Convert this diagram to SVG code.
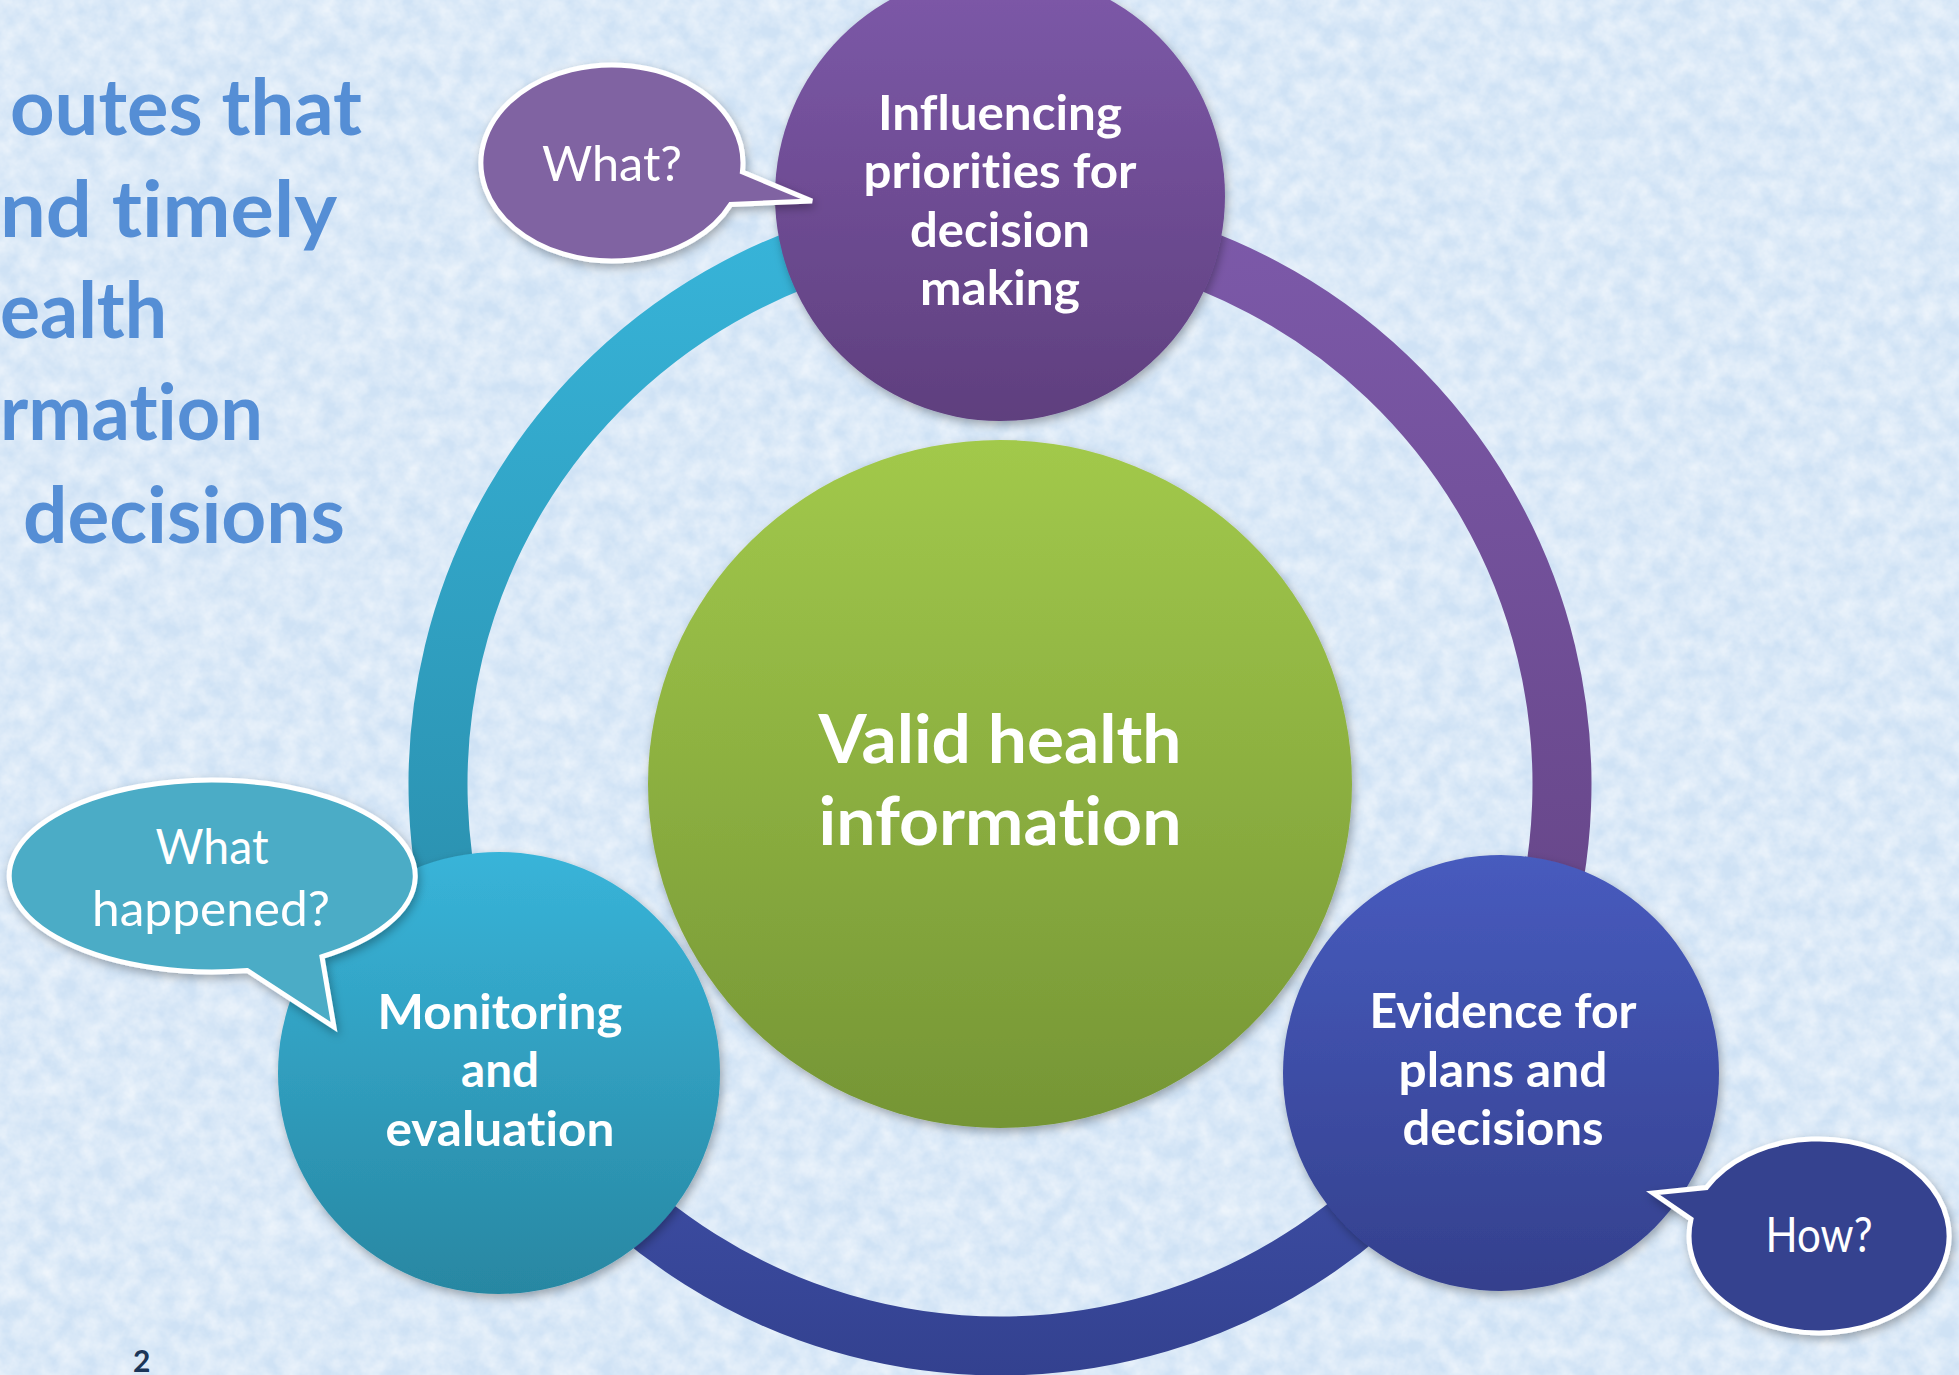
<svg xmlns="http://www.w3.org/2000/svg" width="1959" height="1375" viewBox="0 0 1959 1375">
<style>
text{font-variant-ligatures:none;font-feature-settings:"liga" 0,"clig" 0}
.node{font-family:Lato,"Liberation Sans",sans-serif;font-weight:bold;fill:#ffffff;text-anchor:middle}
.bub{font-family:Lato,"Liberation Sans",sans-serif;font-weight:normal;fill:#ffffff;text-anchor:middle}
.title{font-family:Lato,"Liberation Sans",sans-serif;font-weight:bold;fill:#558ed5;font-size:78px}
.ring{fill:none;stroke-width:59}
.bubshape{stroke:#ffffff;stroke-width:5;stroke-linejoin:miter}
</style>
<defs>
<filter id="tex" x="0" y="0" width="100%" height="100%">
<feTurbulence type="fractalNoise" baseFrequency="0.05" numOctaves="4" seed="7"/>
<feColorMatrix type="matrix" values="0 0 0 0 1  0 0 0 0 1  0 0 0 0 1  0.9 0 0 0 -0.2"/>
</filter>
<filter id="sh" x="-20%" y="-20%" width="140%" height="140%">
<feDropShadow dx="2" dy="4" stdDeviation="5" flood-color="#000000" flood-opacity="0.3"/>
</filter>
<linearGradient id="gTop" x1="0" y1="0" x2="0" y2="1"><stop offset="0" stop-color="#7d59a9"/><stop offset="1" stop-color="#5f3f7e"/></linearGradient>
<linearGradient id="gLeft" x1="0" y1="0" x2="0" y2="1"><stop offset="0" stop-color="#38b4d9"/><stop offset="1" stop-color="#2887a2"/></linearGradient>
<linearGradient id="gRight" x1="0" y1="0" x2="0" y2="1"><stop offset="0" stop-color="#475bbe"/><stop offset="1" stop-color="#34408d"/></linearGradient>
<linearGradient id="gCenter" x1="0" y1="0" x2="0" y2="1"><stop offset="0" stop-color="#a2c94b"/><stop offset="1" stop-color="#759535"/></linearGradient>
<linearGradient id="aCyan" gradientUnits="userSpaceOnUse" x1="0" y1="222" x2="0" y2="1065"><stop offset="0" stop-color="#37b4d9"/><stop offset="1" stop-color="#2889a6"/></linearGradient>
<linearGradient id="aPurple" gradientUnits="userSpaceOnUse" x1="0" y1="222" x2="0" y2="1065"><stop offset="0" stop-color="#7c59a9"/><stop offset="1" stop-color="#634383"/></linearGradient>
<linearGradient id="aBlue" gradientUnits="userSpaceOnUse" x1="0" y1="1065" x2="0" y2="1376"><stop offset="0" stop-color="#4152ac"/><stop offset="1" stop-color="#33418f"/></linearGradient>
</defs>

<g id="background">
<rect x="0" y="0" width="1959" height="1375" fill="#cfe2f5"/>
<rect x="0" y="0" width="1959" height="1375" filter="url(#tex)"/>
</g>

<g id="title-text">
<text class="title" x="10" y="135" textLength="352" lengthAdjust="spacingAndGlyphs">outes that</text>
<text class="title" x="0" y="237" textLength="337" lengthAdjust="spacingAndGlyphs">nd timely</text>
<text class="title" x="0" y="338" textLength="167" lengthAdjust="spacingAndGlyphs">ealth</text>
<text class="title" x="0" y="440" textLength="263" lengthAdjust="spacingAndGlyphs">rmation</text>
<text class="title" x="23" y="543" textLength="322" lengthAdjust="spacingAndGlyphs">decisions</text>
</g>

<g id="connectors">
<path class="ring" stroke="url(#aCyan)" d="M 1000,222 A 562 562 0 0 0 513.3,1065"/>
<path class="ring" stroke="url(#aPurple)" d="M 1000,222 A 562 562 0 0 1 1486.7,1065"/>
<path class="ring" stroke="url(#aBlue)" d="M 1486.7,1065 A 562 562 0 0 1 513.3,1065"/>
</g>

<g id="node-center">
<ellipse cx="1000" cy="784" rx="352" ry="344" fill="url(#gCenter)" filter="url(#sh)"/>
<text class="node" x="1000" y="763" font-size="66" textLength="363" lengthAdjust="spacingAndGlyphs">Valid health</text>
<text class="node" x="1000" y="845" font-size="66" textLength="363" lengthAdjust="spacingAndGlyphs">information</text>
</g>

<g id="node-top">
<circle cx="1000" cy="196" r="225" fill="url(#gTop)" filter="url(#sh)"/>
<text class="node" x="1000" y="130" font-size="48" textLength="244" lengthAdjust="spacingAndGlyphs">Influencing</text>
<text class="node" x="1000" y="188" font-size="48" textLength="273" lengthAdjust="spacingAndGlyphs">priorities for</text>
<text class="node" x="1000" y="247" font-size="48" textLength="180" lengthAdjust="spacingAndGlyphs">decision</text>
<text class="node" x="1000" y="305" font-size="48" textLength="160" lengthAdjust="spacingAndGlyphs">making</text>
</g>

<g id="node-left">
<circle cx="499" cy="1073" r="221" fill="url(#gLeft)" filter="url(#sh)"/>
<text class="node" x="500" y="1029" font-size="48" textLength="245" lengthAdjust="spacingAndGlyphs">Monitoring</text>
<text class="node" x="500" y="1087" font-size="48" textLength="78" lengthAdjust="spacingAndGlyphs">and</text>
<text class="node" x="500" y="1146" font-size="48" textLength="229" lengthAdjust="spacingAndGlyphs">evaluation</text>
</g>

<g id="node-right">
<circle cx="1501" cy="1073" r="218" fill="url(#gRight)" filter="url(#sh)"/>
<text class="node" x="1503" y="1028" font-size="48" textLength="267" lengthAdjust="spacingAndGlyphs">Evidence for</text>
<text class="node" x="1503" y="1087" font-size="48" textLength="209" lengthAdjust="spacingAndGlyphs">plans and</text>
<text class="node" x="1503" y="1145" font-size="48" textLength="201" lengthAdjust="spacingAndGlyphs">decisions</text>
</g>

<g id="bubble-what">
<path class="bubshape" fill="#8064a2" filter="url(#sh)" d="M 730.7,204.4 A 131 98 0 1 1 742.4,172 L 812,201 Z"/>
<text class="bub" x="612" y="181" font-size="48" textLength="140" lengthAdjust="spacingAndGlyphs">What?</text>
</g>

<g id="bubble-what-happened">
<path class="bubshape" fill="#4bacc6" filter="url(#sh)" d="M 322,956.7 A 203 96 0 1 0 247.3,970.5 L 334,1027 Z"/>
<text class="bub" x="212" y="864" font-size="48" textLength="113" lengthAdjust="spacingAndGlyphs">What</text>
<text class="bub" x="211" y="926" font-size="48" textLength="238" lengthAdjust="spacingAndGlyphs">happened?</text>
</g>

<g id="bubble-how">
<path class="bubshape" fill="#36438f" filter="url(#sh)" d="M 1706.4,1187.5 A 130 97 0 1 1 1691,1219.2 L 1653,1193 Z"/>
<text class="bub" x="1819" y="1252" font-size="48" textLength="107" lengthAdjust="spacingAndGlyphs">How?</text>
</g>

<g id="page-number">
<text x="133" y="1372" font-family="Lato,'Liberation Sans',sans-serif" font-weight="bold" font-size="30" fill="#1b3558">2</text>
</g>
</svg>
